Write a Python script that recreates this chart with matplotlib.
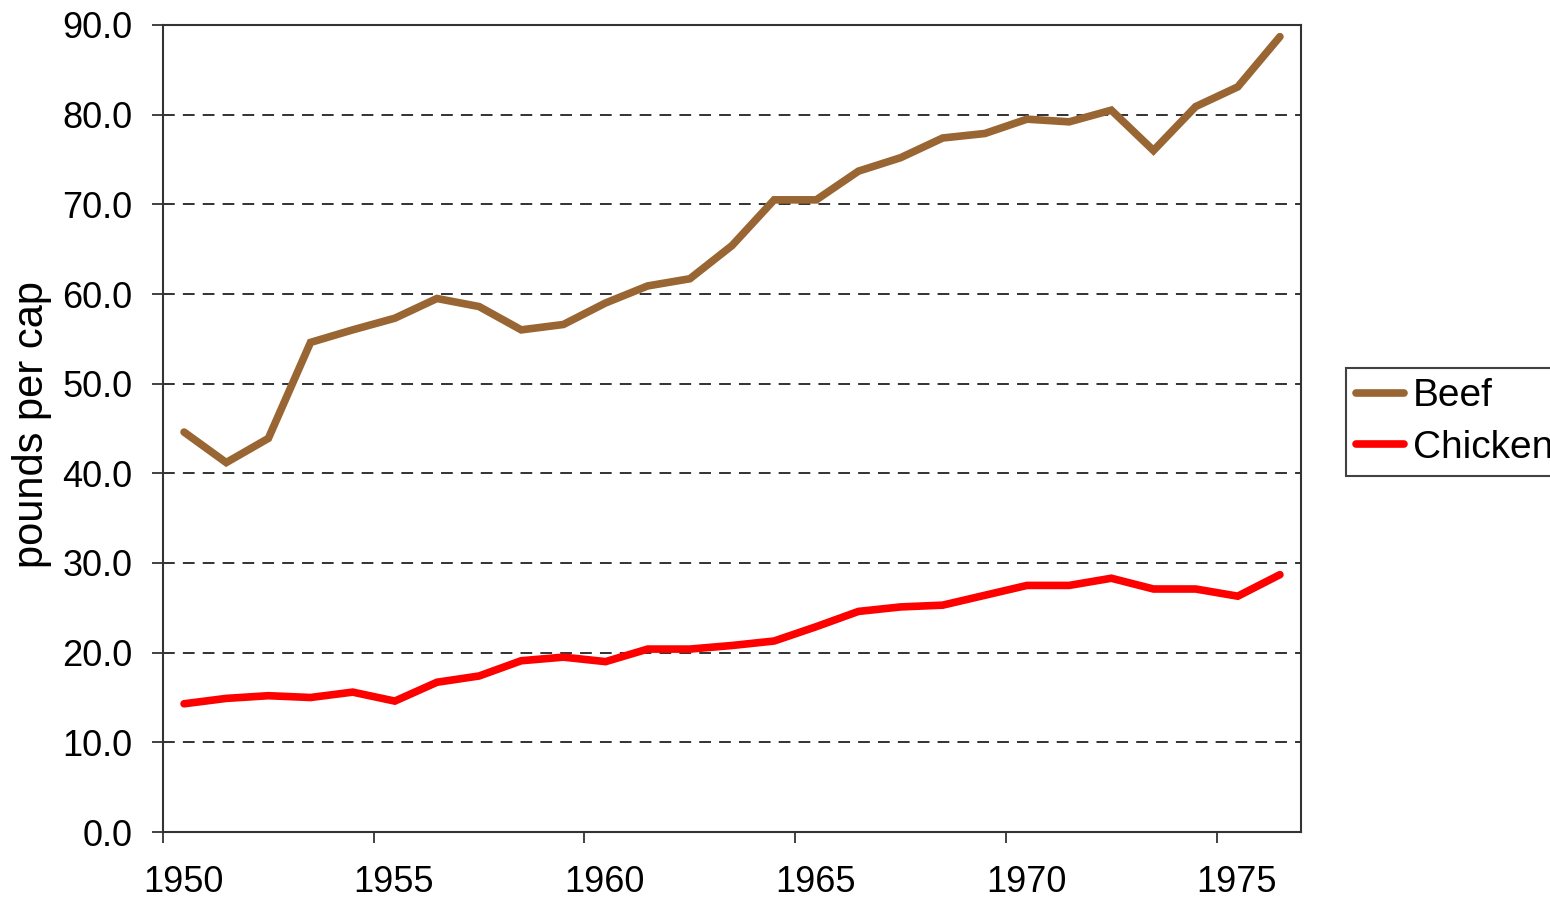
import matplotlib
matplotlib.use("Agg")
import matplotlib.pyplot as plt
from matplotlib.transforms import ScaledTranslation
import numpy as np

years = list(range(1950, 1977))
beef = [44.6, 41.2, 43.9, 54.6, 56.0, 57.3, 59.5, 58.6, 56.0, 56.6,
        59.0, 60.9, 61.7, 65.4, 70.5, 70.5, 73.7, 75.2, 77.4, 77.9,
        79.5, 79.2, 80.5, 76.0, 80.9, 83.1, 88.7]
chicken = [14.3, 14.9, 15.2, 15.0, 15.6, 14.6, 16.7, 17.4, 19.1, 19.5,
           19.0, 20.4, 20.4, 20.8, 21.3, 22.9, 24.6, 25.1, 25.3, 26.4,
           27.5, 27.5, 28.3, 27.1, 27.1, 26.3, 28.7]
series_names = ["Beef", "Chicken"]
series_colors = ["#996633", "#FF0000"]
x_ticks = [1950, 1955, 1960, 1965, 1970, 1975]
y_ticks = [0, 10, 20, 30, 40, 50, 60, 70, 80, 90]
y_label = "pounds per cap"

plt.rcParams['font.family'] = ['Liberation Sans', 'DejaVu Sans']

fig = plt.figure(figsize=(15.5, 9.01), dpi=100)
ax = fig.add_axes([163/1550, 1-832/901, (1301-163)/1550, (832-25)/901])

xpos = np.array(years) + 0.5
for vals, name, col in zip([beef, chicken], series_names, series_colors):
    ax.plot(xpos, vals, color=col, lw=5.5, label=name, solid_capstyle='round',
            solid_joinstyle='miter', zorder=3)

ax.set_xlim(1950, 1977)
ax.set_ylim(0, 90)
ax.set_xticks(x_ticks)
ax.set_yticks(y_ticks)
ax.set_yticklabels([f"{v:.1f}" for v in y_ticks])
for v in y_ticks[1:-1]:
    ax.axhline(v, color='#222222', lw=1.3, ls=(0, (6.5, 4.5)), zorder=1)

for s in ax.spines.values():
    s.set_color('#333333')
    s.set_linewidth(1.5)
ax.tick_params(axis='both', direction='out', length=8, width=1.3, color='#333333',
               labelsize=26)
ax.tick_params(axis='y', pad=14)
ax.tick_params(axis='x', pad=16)
shift = ScaledTranslation(20/100, 0, fig.dpi_scale_trans)
for lab in ax.get_xticklabels():
    lab.set_transform(lab.get_transform() + shift)

ax.set_ylabel(y_label, fontsize=30, va='center')
ax.yaxis.set_label_coords(32/1550, 1-425/901, transform=fig.transFigure)

leg = ax.legend(loc='upper left', bbox_to_anchor=(1346/1550, 1-368/901),
                bbox_transform=fig.transFigure, borderaxespad=0, fontsize=28,
                frameon=True, fancybox=False, edgecolor='#111111',
                handlelength=1.23, handletextpad=0.23, labelspacing=0.41,
                borderpad=0.26)
leg.get_frame().set_linewidth(1.5)

fig.savefig("out.png", dpi=100)
